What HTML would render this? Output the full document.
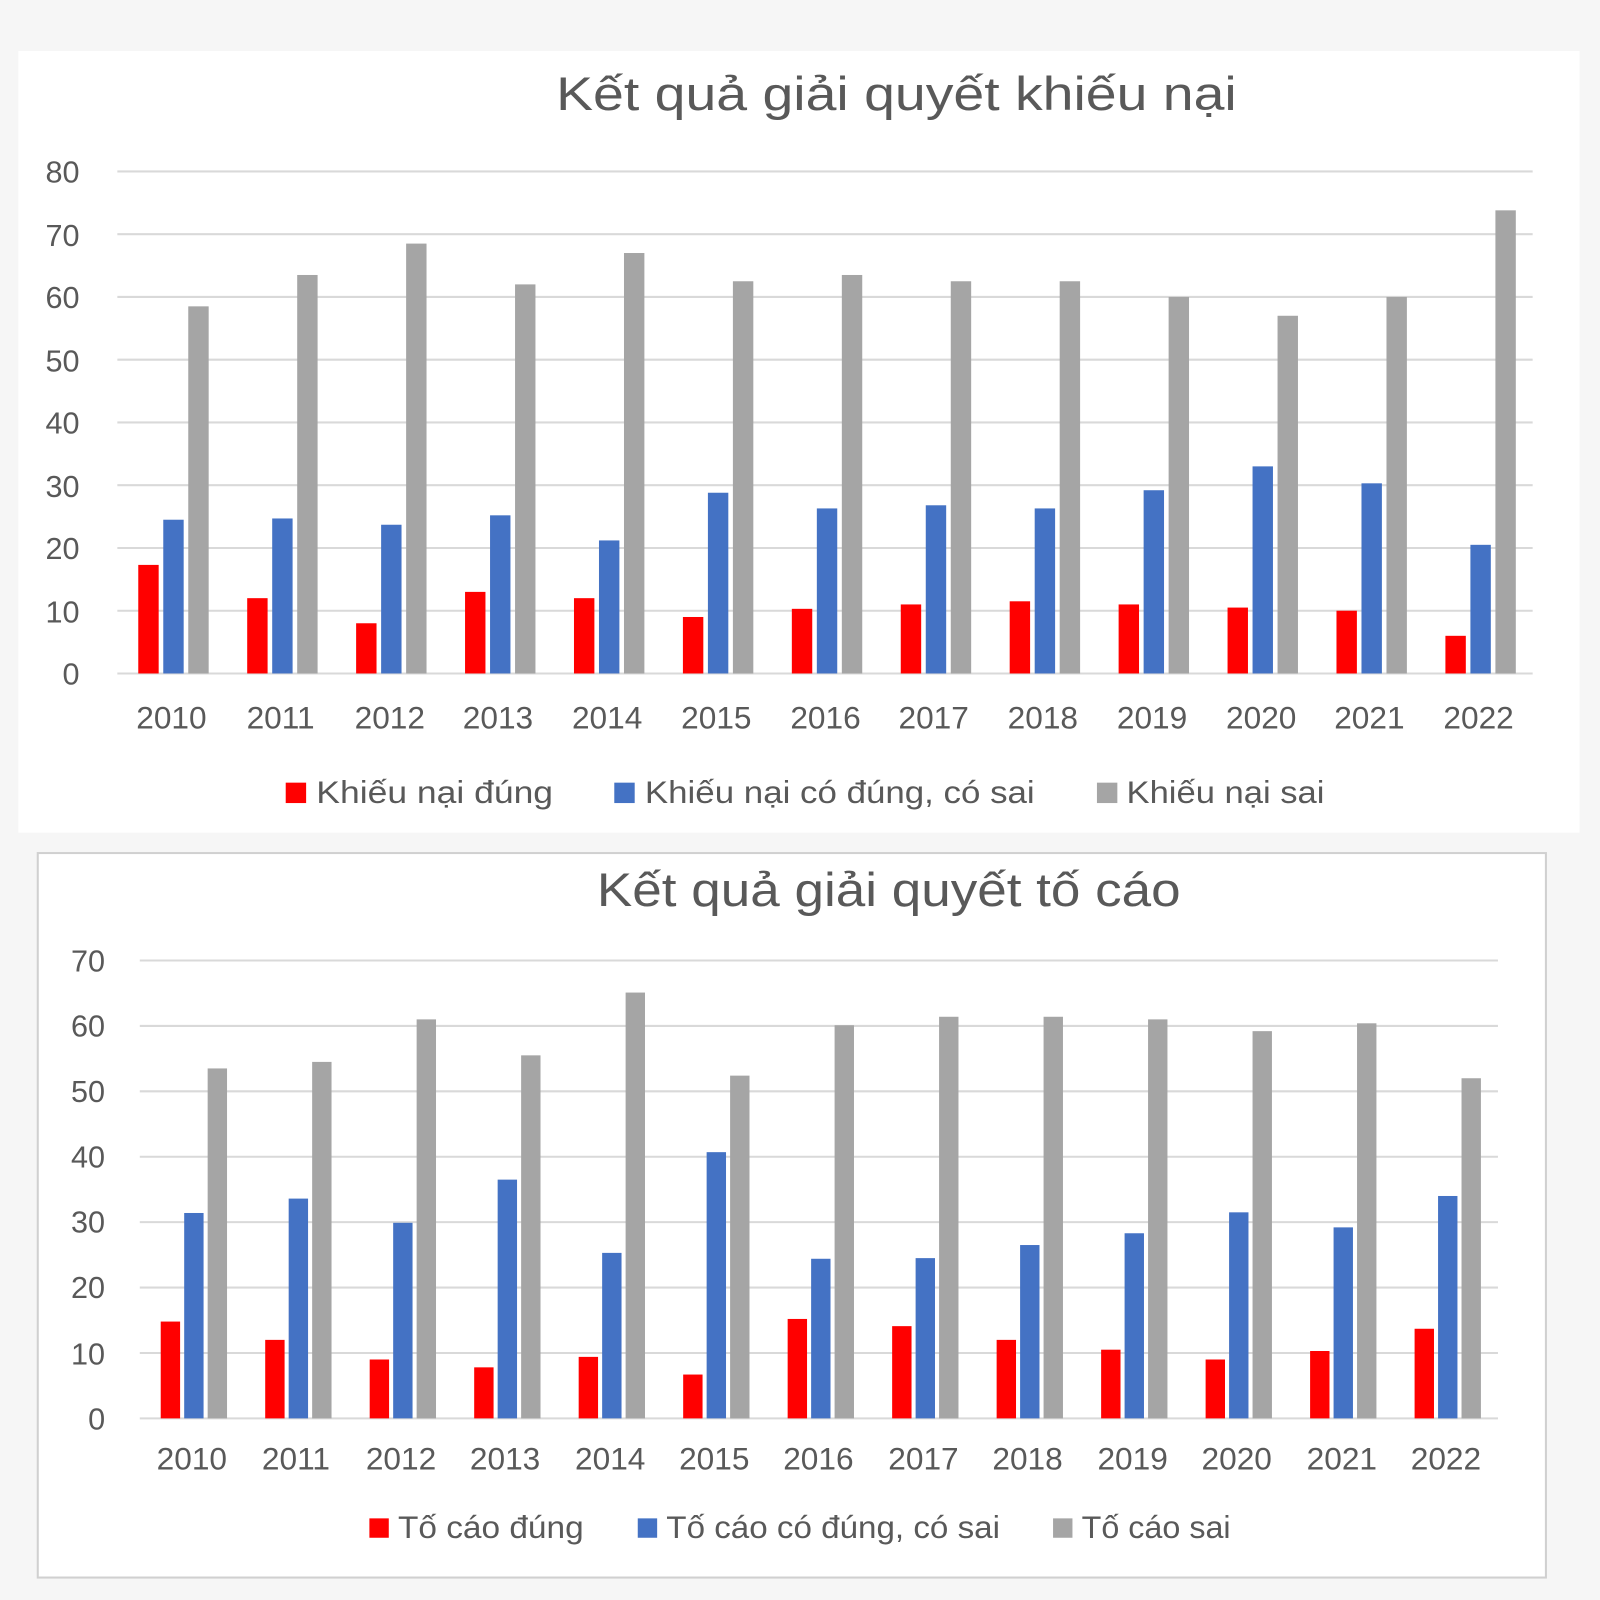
<!DOCTYPE html>
<html><head><meta charset="utf-8"><style>
html,body{margin:0;padding:0;background:#f6f6f6;}
svg{display:block;font-family:"Liberation Sans","DejaVu Sans",sans-serif;}
</style></head><body>
<svg width="1600" height="1600" viewBox="0 0 1600 1600">
<rect x="0" y="0" width="1600" height="1600" fill="#f6f6f6"/>
<g transform="scale(1.020408)">
<rect x="18" y="50" width="1530" height="766" fill="#ffffff"/>
<rect x="37" y="836" width="1478" height="710" fill="#ffffff" stroke="#d0d0d0" stroke-width="2"/>
<g fill="#595959" font-size="46">
<text x="545" y="108" textLength="667" lengthAdjust="spacingAndGlyphs">Kết quả giải quyết khiếu nại</text>
<text x="585" y="888" textLength="572" lengthAdjust="spacingAndGlyphs">Kết quả giải quyết tố cáo</text>
</g>
<g id="g1" stroke="#d9d9d9" stroke-width="2"></g>
<g id="bars"></g>
<g fill="#595959" font-size="30" text-anchor="end">
<text x="78" y="179">80</text><text x="78" y="241">70</text><text x="78" y="302">60</text><text x="78" y="364">50</text><text x="78" y="425">40</text><text x="78" y="487">30</text><text x="78" y="548">20</text><text x="78" y="610">10</text><text x="78" y="671">0</text>
<text x="103" y="952">70</text><text x="103" y="1016">60</text><text x="103" y="1080">50</text><text x="103" y="1144">40</text><text x="103" y="1208">30</text><text x="103" y="1272">20</text><text x="103" y="1337">10</text><text x="103" y="1401">0</text>
</g>
<g fill="#595959" font-size="31" text-anchor="middle">
<text x="168" y="714">2010</text><text x="275" y="714">2011</text><text x="382" y="714">2012</text><text x="488" y="714">2013</text><text x="595" y="714">2014</text><text x="702" y="714">2015</text><text x="809" y="714">2016</text><text x="915" y="714">2017</text><text x="1022" y="714">2018</text><text x="1129" y="714">2019</text><text x="1236" y="714">2020</text><text x="1342" y="714">2021</text><text x="1449" y="714">2022</text>
<text x="188" y="1440">2010</text><text x="290" y="1440">2011</text><text x="393" y="1440">2012</text><text x="495" y="1440">2013</text><text x="598" y="1440">2014</text><text x="700" y="1440">2015</text><text x="802" y="1440">2016</text><text x="905" y="1440">2017</text><text x="1007" y="1440">2018</text><text x="1110" y="1440">2019</text><text x="1212" y="1440">2020</text><text x="1315" y="1440">2021</text><text x="1417" y="1440">2022</text>
</g>
<g font-size="31" fill="#595959">
<rect x="280" y="767" width="20" height="20" fill="#ff0000"/><text x="310" y="787" textLength="232" lengthAdjust="spacingAndGlyphs">Khiếu nại đúng</text>
<rect x="602" y="767" width="20" height="20" fill="#4472c4"/><text x="632" y="787" textLength="382" lengthAdjust="spacingAndGlyphs">Khiếu nại có đúng, có sai</text>
<rect x="1075" y="767" width="20" height="20" fill="#a5a5a5"/><text x="1104" y="787" textLength="194" lengthAdjust="spacingAndGlyphs">Khiếu nại sai</text>
<rect x="362" y="1488" width="19" height="19" fill="#ff0000"/><text x="390" y="1507" textLength="182" lengthAdjust="spacingAndGlyphs">Tố cáo đúng</text>
<rect x="625" y="1488" width="19" height="19" fill="#4472c4"/><text x="653" y="1507" textLength="327" lengthAdjust="spacingAndGlyphs">Tố cáo có đúng, có sai</text>
<rect x="1032" y="1488" width="19" height="19" fill="#a5a5a5"/><text x="1060" y="1507" textLength="146" lengthAdjust="spacingAndGlyphs">Tố cáo sai</text>
</g>
</g>
</svg>
<script>
var ns="http://www.w3.org/2000/svg";
function el(p,t,a){var e=document.createElementNS(ns,t);for(var k in a)e.setAttribute(k,a[k]);p.appendChild(e);}
var g1=document.getElementById('g1'),b=document.getElementById('bars');
for(var i=0;i<=8;i++){var y=660-i*61.5;el(g1,'line',{x1:115,x2:1502,y1:y,y2:y});}
for(var i=0;i<=7;i++){var y=1390-i*64.1;el(g1,'line',{x1:137,x2:1468,y1:y,y2:y});}
var A=[[17.3,12,8,13,12,9,10.3,11,11.5,11,10.5,10,6],[24.5,24.7,23.7,25.2,21.2,28.8,26.3,26.8,26.3,29.2,33,30.3,20.5],[58.5,63.5,68.5,62,67,62.5,63.5,62.5,62.5,60,57,60,73.8]];
var B=[[14.8,12,9,7.8,9.4,6.7,15.2,14.1,12,10.5,9,10.3,13.7],[31.4,33.6,29.9,36.5,25.3,40.7,24.4,24.5,26.5,28.3,31.5,29.2,34],[53.5,54.5,61,55.5,65.1,52.4,60.1,61.4,61.4,61,59.2,60.4,52]];
var C=['#ff0000','#4472c4','#a5a5a5'];
for(var s=0;s<3;s++)for(var i=0;i<13;i++){
 var cx=170+i*106.75+(s-1)*24.5,h=A[s][i]*6.15;el(b,'rect',{x:cx-10,y:660-h,width:20,height:h,fill:C[s]});
 var cx2=190+i*102.4+(s-1)*23,h2=B[s][i]*6.41;el(b,'rect',{x:cx2-9.5,y:1390-h2,width:19,height:h2,fill:C[s]});
}
</script>
</body></html>
